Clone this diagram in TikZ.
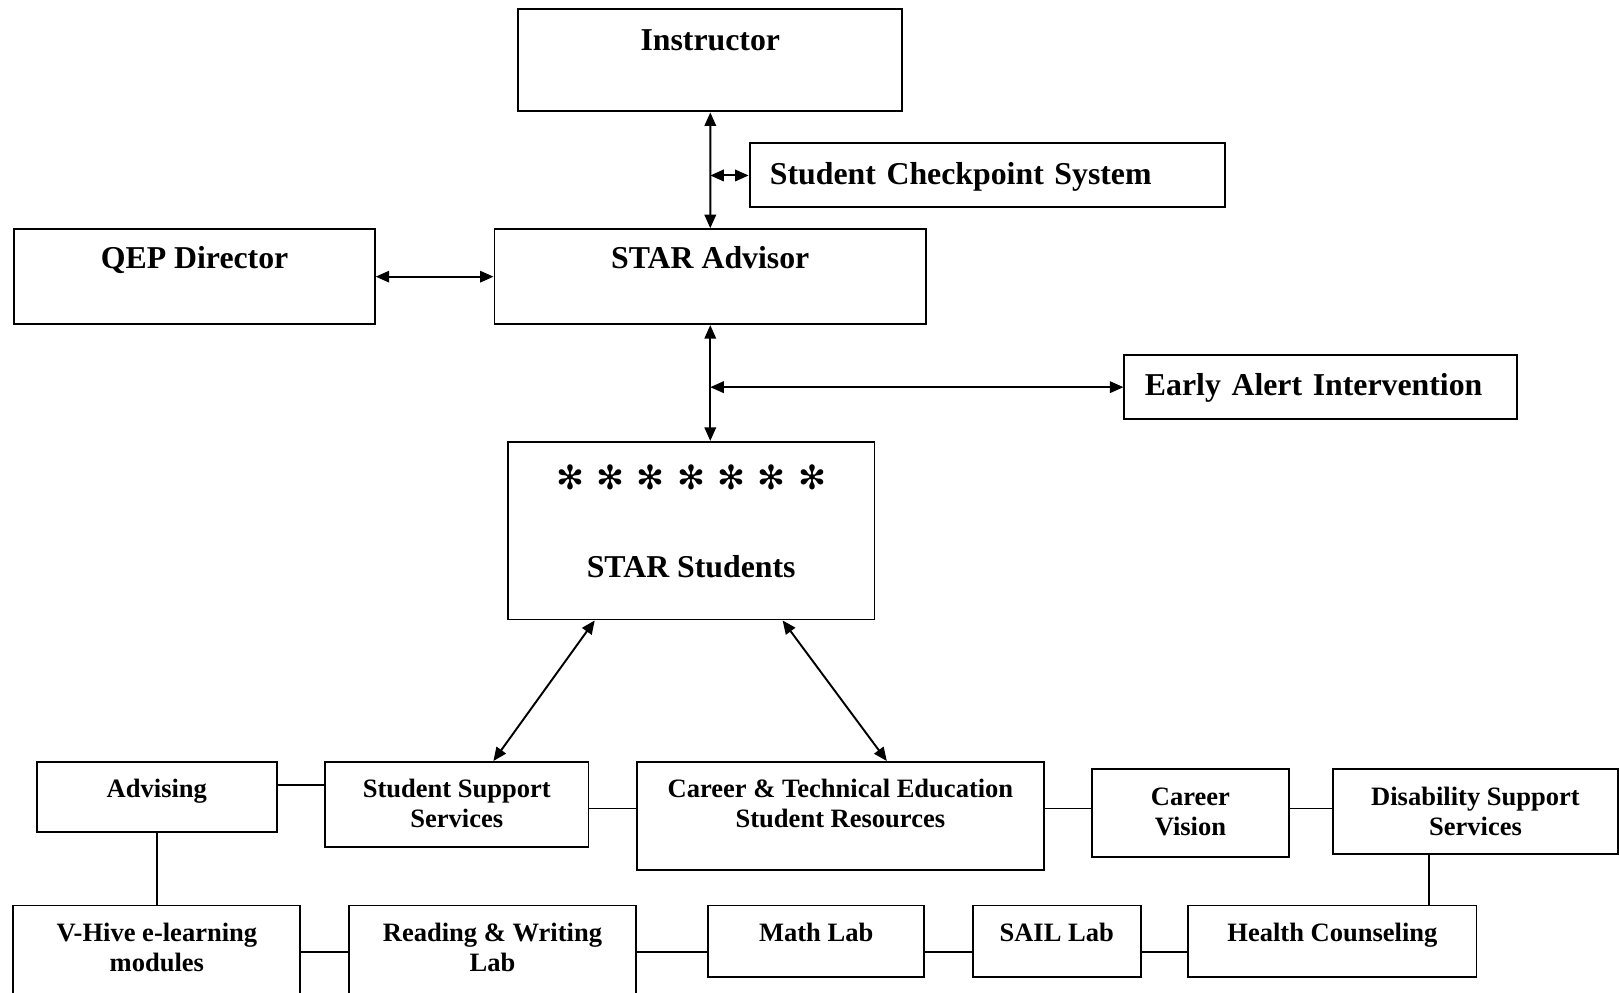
\documentclass[tikz,border=0pt]{standalone}
\usepackage{fontspec}
\setmainfont{Liberation Serif}
\newfontfamily\dingfont{DejaVu Sans}
\usepackage{tikz}
\usetikzlibrary{arrows.meta}

\newlength\pxu
\setlength\pxu{0.02cm}

\tikzset{
  bigbox/.style={draw, line width=1.1pt, inner sep=0pt, anchor=north west, align=center,
    font=\bfseries\fontsize{18.1}{21}\selectfont},
  sidebox/.style={bigbox, align=left, inner ysep=0pt},
  smallbox/.style={draw, line width=1.1pt, inner sep=0pt, anchor=north west, align=center,
    font=\bfseries\fontsize{15.1}{17}\selectfont},
}

\begin{document}
\begin{tikzpicture}[x=0.02cm, y=-0.02cm, line width=1.1pt,
    >={Triangle[length=0.27cm, width=0.23cm]}]
        \useasboundingbox (0,0) rectangle (1619,993);

        % Nodes
        \node[bigbox, minimum width=384.1\pxu, text height=41.7\pxu, text depth=60.5\pxu] (instr) at (517.3,8.3) {Instructor};
        \node[sidebox, text width=434.2\pxu, inner xsep=20.4\pxu, text height=41.5\pxu, text depth=22.5\pxu] (scs) at (748.6,142.5) {Student Checkpoint System};
        \node[bigbox, minimum width=360.4\pxu, text height=39.4\pxu, text depth=55.6\pxu] (qep) at (13.4,228.2) {QEP Director};
        \node[bigbox, minimum width=431.6\pxu, text height=39.4\pxu, text depth=55.6\pxu] (adv) at (493.5,228.2) {STAR Advisor};
        \node[sidebox, text width=351.2\pxu, inner xsep=20.6\pxu, text height=40.4\pxu, text depth=23.6\pxu] (eai) at (1123.4,354.2) {Early Alert Intervention};
        \node[bigbox, minimum width=366.5\pxu, text height=135.4\pxu, text depth=42.2\pxu] (stud) at (507,440.9)
            {{\dingfont\fontsize{19}{19}\selectfont ✻\hspace{7pt}✻\hspace{7pt}✻\hspace{7pt}✻\hspace{7pt}✻\hspace{7pt}✻\hspace{7pt}✻}\\[29pt]STAR Students};

        \node[smallbox, minimum width=239.6\pxu, text height=35.6\pxu, text depth=34.6\pxu] (advis) at (36.1,761) {Advising};
        \node[smallbox, minimum width=263.3\pxu, text height=65.6\pxu, text depth=19\pxu] (sss) at (324.2,761) {Student Support\\Services};
        \node[smallbox, minimum width=406.9\pxu, text height=65.6\pxu, text depth=42.8\pxu] (cte) at (636,761) {Career \& Technical Education\\Student Resources};
        \node[smallbox, minimum width=196.2\pxu, text height=66.6\pxu, text depth=21.2\pxu] (cv) at (1091.4,768.2) {Career\\Vision};
        \node[smallbox, minimum width=285\pxu, text height=66.6\pxu, text depth=18.1\pxu] (dss) at (1332,768.2) {Disability Support\\Services};

        \node[smallbox, minimum width=287\pxu, text height=65.6\pxu, text depth=90\pxu] (vhive) at (12.4,904.5) {V-Hive e-learning\\modules};
        \node[smallbox, minimum width=287\pxu, text height=65.6\pxu, text depth=90\pxu] (rw) at (348,904.5) {Reading \& Writing\\Lab};
        \node[smallbox, minimum width=215.8\pxu, text height=35.6\pxu, text depth=35.6\pxu] (math) at (707.3,904.5) {Math Lab};
        \node[smallbox, minimum width=168.3\pxu, text height=35.6\pxu, text depth=35.6\pxu] (sail) at (971.6,904.5) {SAIL Lab};
        \node[smallbox, minimum width=288.1\pxu, text height=35.6\pxu, text depth=35.6\pxu] (health) at (1187.4,904.5) {Health Counseling};

        % Join points
        \coordinate (chkjoin) at (instr.south |- scs.west);
        \coordinate (alertjoin) at (adv.south |- eai.west);
        \coordinate (toprow) at (0,784.7);
        \coordinate (midrow) at (0,808.5);
        \coordinate (lowrow) at (0,952);
        \coordinate (dssdrop) at ([xshift=-46.5\pxu]dss.south);

        % Edges
        \draw[<->] (instr) -- (adv);
        \draw[<->] (chkjoin) -- (scs.west);
        \draw[<->] (qep) -- (adv);
        \draw[<->] (adv.south) -- (adv.south |- stud.north);
        \draw[<->] (alertjoin) -- (eai.west);
        \draw[<->] ([xshift=-96.5\pxu]stud.south) -- ([xshift=36.6\pxu]sss.north);
        \draw[<->] ([xshift=91.4\pxu]stud.south) -- ([xshift=46.4\pxu]cte.north);

        \draw (advis.east |- toprow) -- (sss.west |- toprow);
        \draw (sss.east |- midrow) -- (cte.west |- midrow);
        \draw (cte.east |- midrow) -- (cv.west |- midrow);
        \draw (cv.east |- midrow) -- (dss.west |- midrow);
        \draw (advis.south) -- (advis.south |- vhive.north);
        \draw (dssdrop) -- (dssdrop |- health.north);
        \draw (vhive.east |- lowrow) -- (rw.west |- lowrow);
        \draw (rw.east |- lowrow) -- (math.west |- lowrow);
        \draw (math.east |- lowrow) -- (sail.west |- lowrow);
        \draw (sail.east |- lowrow) -- (health.west |- lowrow);
    \end{tikzpicture}
\end{document}
